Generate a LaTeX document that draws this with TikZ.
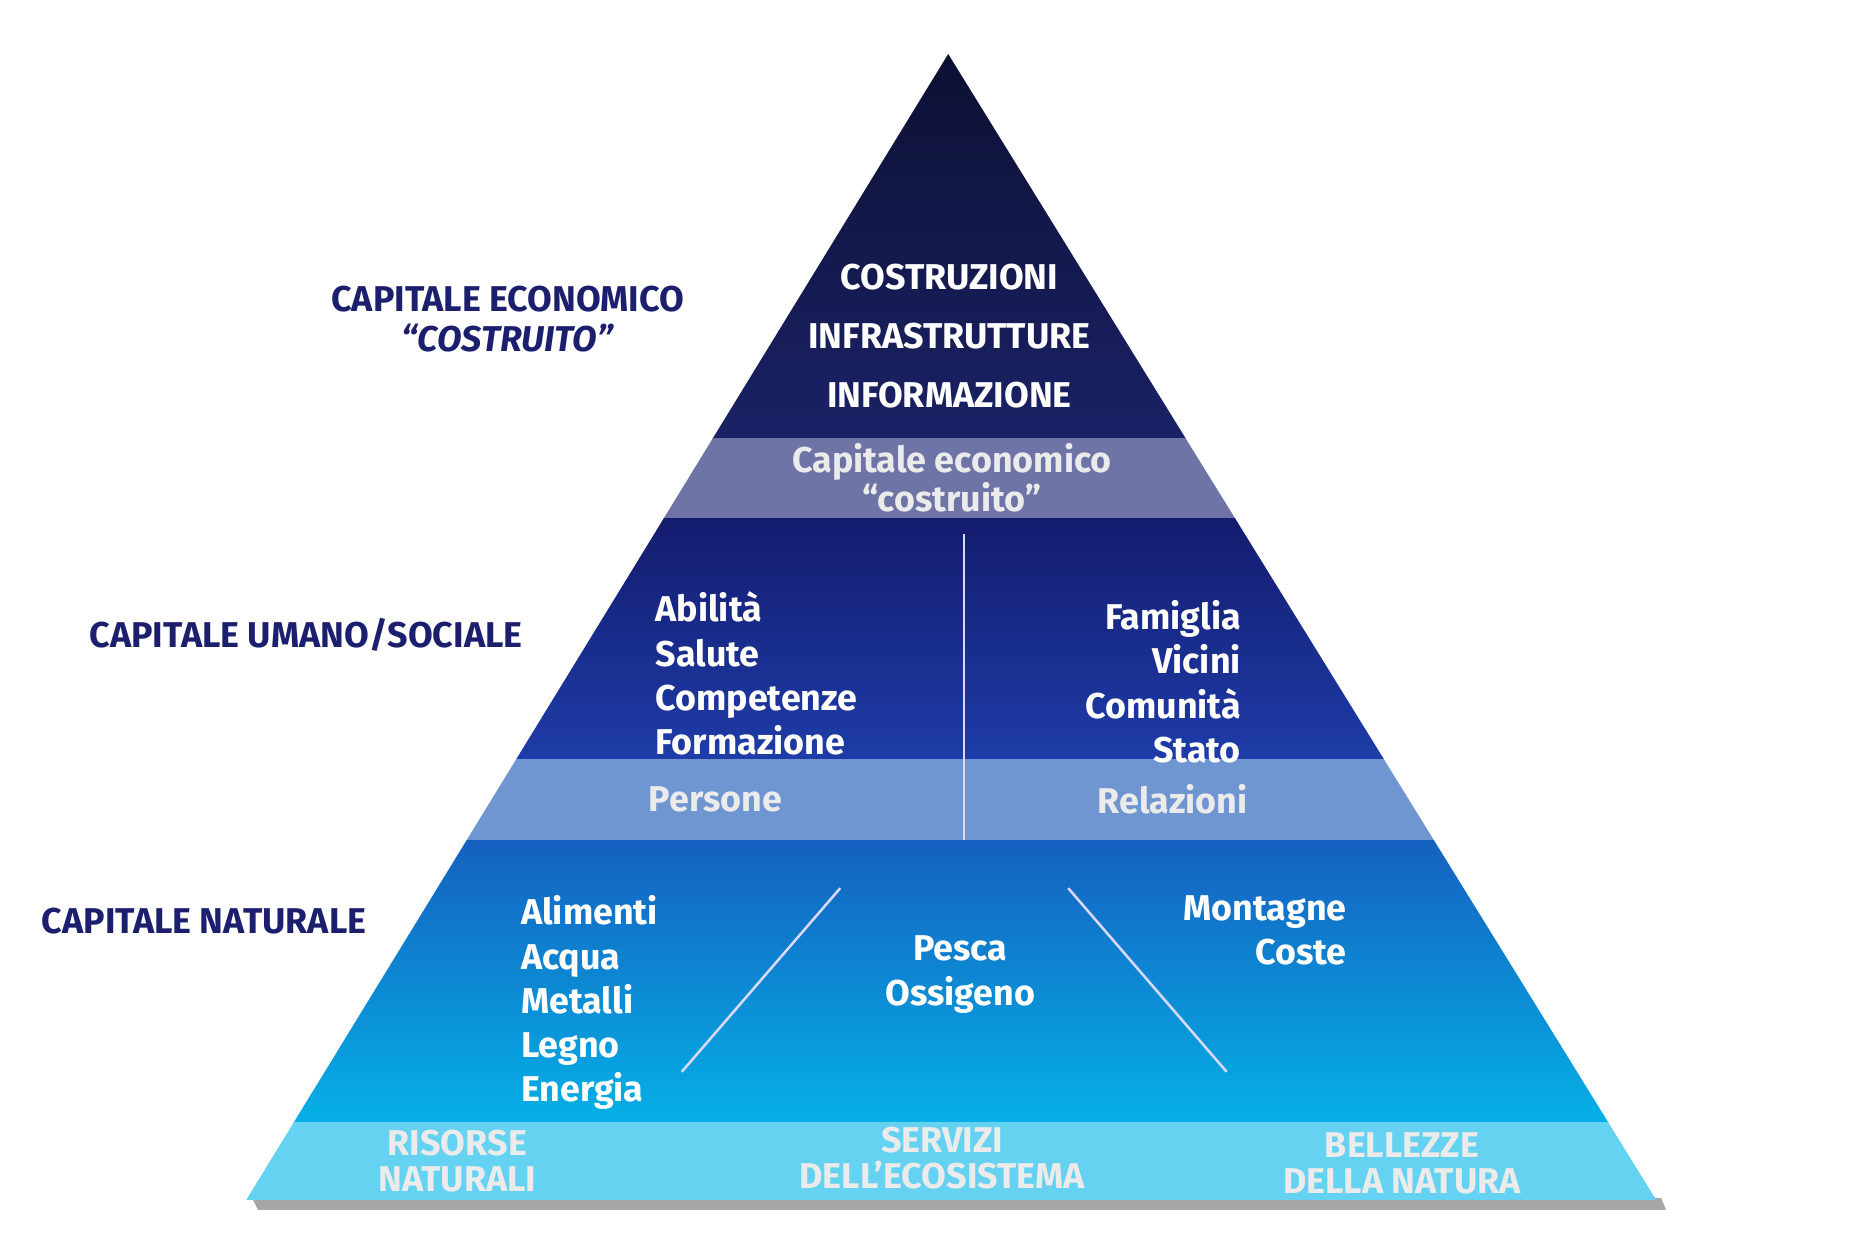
\documentclass[tikz,border=0pt]{standalone}
\usepackage{fontspec}
\setmainfont{Fira Sans}
\usetikzlibrary{positioning}
\usetikzlibrary{calc}

\definecolor{navy}{HTML}{1C1F6E}
\definecolor{topdark}{HTML}{0D1033}
\definecolor{topmid}{HTML}{1A2266}
\definecolor{greyband}{HTML}{6E74A6}
\definecolor{humtop}{HTML}{141C6E}
\definecolor{humbot}{HTML}{1E3CA8}
\definecolor{lightband}{HTML}{7096D2}
\definecolor{nattop}{HTML}{1560C0}
\definecolor{natbot}{HTML}{05B0E6}
\definecolor{baseband}{HTML}{64D2F0}

\tikzset{
	side/.style = {font=\bfseries\fontsize{17}{19}\selectfont, text=navy, align=center},
	item/.style = {font=\bfseries\fontsize{17}{21}\selectfont, text=white},
	band/.style = {font=\bfseries\fontsize{17}{17}\selectfont, text=white!92!black, align=center},
	split/.style = {white!85!blue, line width=1.2pt}
}

\begin{document}
\begin{tikzpicture}[x=0.02cm,y=-0.02cm]
		\useasboundingbox (0,0) rectangle (1548,1040);

		% shadow
		\fill[black!35] (215,1008) -- (1388,1008) -- (1384,998) -- (210,998) -- cycle;

		\begin{scope}
			\clip (790,45) -- (1380,1000) -- (205,1000) -- cycle;
			\shade[top color=topdark, bottom color=topmid] (0,45) rectangle (1548,365);
			\fill[greyband] (0,365) rectangle (1548,432);
			\shade[top color=humtop, bottom color=humbot] (0,432) rectangle (1548,632);
			\fill[lightband] (0,632) rectangle (1548,700);
			\shade[top color=nattop, bottom color=natbot] (0,700) rectangle (1548,935);
			\fill[baseband] (0,935) rectangle (1548,1000);
		\end{scope}

		% dividers
		\coordinate (vtop) at (803,445);
		\coordinate (vbot) at (803,700);
		\draw[split] (vtop) -- (vbot);
		\coordinate (la) at (700,740);
		\coordinate (lb) at (568,893);
		\coordinate (ra) at (890,740);
		\coordinate (rb) at (1022,893);
		\draw[split] (la) -- (lb);
		\draw[split] (ra) -- (rb);

		% side labels
		\node[side] (ce) at (423,266) {CAPITALE ECONOMICO\\\textit{“COSTRUITO”}};
		\node[side] (cu) at (255,529) {CAPITALE UMANO/SOCIALE};
		\node[side] (cn) at (170,767) {CAPITALE NATURALE};

		% top
		\node[item, align=center, font=\bfseries\fontsize{17}{28}\selectfont] (costr) at (791,280) {COSTRUZIONI\\INFRASTRUTTURE\\INFORMAZIONE};
		\node[band, font=\bfseries\fontsize{17}{17}\selectfont] (capec) at (793,398) {Capitale economico\\“costruito”};

		% human/social
		\node[item, align=left, anchor=north west] (pers) at (540,487) {Abilità\\Salute\\Competenze\\Formazione};
		\node[item, align=right, anchor=north east] (rel) at (1040,494) {Famiglia\\Vicini\\Comunità\\Stato};
		\node[band] (persone) at (596,666) {Persone};
		\node[band] (relaz) at (977,666) {Relazioni};

		% natural
		\node[item, align=left, anchor=north west] (ris) at (428,740) {Alimenti\\Acqua\\Metalli\\Legno\\Energia};
		\node[item, align=center] (serv) at (800,812) {Pesca\\Ossigeno};
		\node[item, align=right, anchor=north east] (bel) at (1128,740) {Montagne\\Coste};

		% base band
		\node[band] (risn) at (381,967) {RISORSE\\NATURALI};
		\node[band] (serve) at (785,965) {SERVIZI\\DELL’ECOSISTEMA};
		\node[band] (belln) at (1168,969) {BELLEZZE\\DELLA NATURA};
\end{tikzpicture}
\end{document}
